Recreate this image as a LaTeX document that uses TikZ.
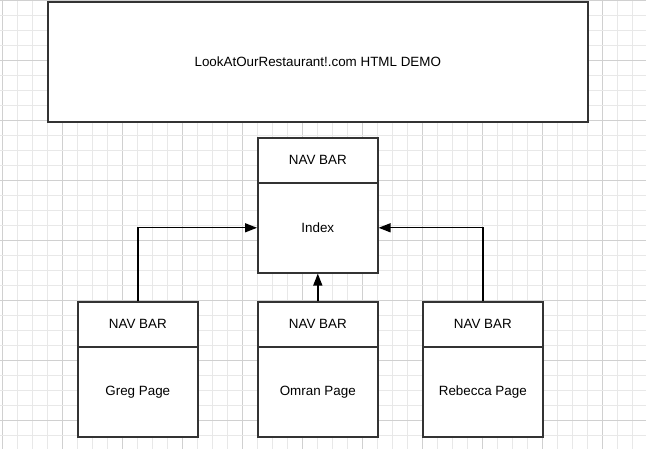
\documentclass[tikz,border=0pt]{standalone}
\usepackage{fontspec}
\setmainfont{Liberation Sans}
\usetikzlibrary{arrows.meta}
\definecolor{gridminor}{HTML}{E8E8E8}
\definecolor{gridmajor}{HTML}{D0D0D0}
\definecolor{edgecol}{HTML}{333333}
\begin{document}
\begin{tikzpicture}[x=1pt,y=-1pt,
  box/.style={draw=edgecol, line width=1.6pt, fill=white, inner sep=0pt, anchor=north west,
    font=\fontsize{13.4}{16}\selectfont},
  navbox/.style={box, minimum width=120pt, minimum height=45pt},
  bodybox/.style={box, minimum width=120pt, minimum height=90pt},
  link/.style={draw=black, line width=1.4pt, -{Triangle[length=12pt,width=9pt]}}]
\useasboundingbox (0,0) rectangle (646,449);
\fill[white] (0,0) rectangle (646,449);
% grid
\foreach \i in {0,...,43}{
  \pgfmathtruncatemacro{\m}{mod(\i,4)}
  \ifnum\m=0 \def\gc{gridmajor}\else\def\gc{gridminor}\fi
  \draw[\gc, line width=0.8pt] (2.7+15*\i,0) -- (2.7+15*\i,449);
}
\foreach \j in {0,...,30}{
  \pgfmathtruncatemacro{\m}{mod(\j,4)}
  \ifnum\m=0 \def\gc{gridmajor}\else\def\gc{gridminor}\fi
  \draw[\gc, line width=0.8pt] (0,15*\j) -- (646,15*\j);
}
% title box
\node[box, minimum width=540pt, minimum height=120pt] (title) at (47,1) {LookAtOurRestaurant!.com HTML DEMO};
% index
\node[bodybox] (indexbody) at (257,182) {Index};
\node[navbox] (indexnav) at (257,137) {NAV BAR};
% pages
\node[bodybox] (gregbody) at (77,346) {Greg Page};
\node[navbox] (gregnav) at (77,301) {NAV BAR};
\node[bodybox] (omranbody) at (257,346) {Omran Page};
\node[navbox] (omrannav) at (257,301) {NAV BAR};
\node[bodybox] (rebeccabody) at (422,346) {Rebecca Page};
\node[navbox] (rebeccanav) at (422,301) {NAV BAR};
% connectors
\draw[link] (gregnav.north) |- (indexbody.west);
\draw[link] (rebeccanav.north) |- (indexbody.east);
\draw[link] (omrannav.north) -- (indexbody.south);
\end{tikzpicture}
\end{document}
